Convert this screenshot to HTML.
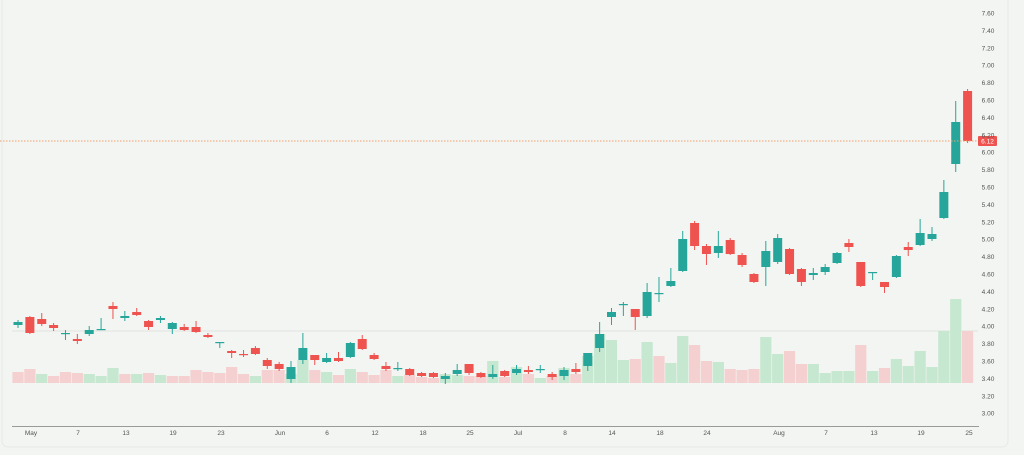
<!DOCTYPE html>
<html><head><meta charset="utf-8"><style>
html,body{margin:0;padding:0;background:#f3f5f2;}
svg{display:block;font-family:"Liberation Sans",sans-serif;}
</style></head><body>
<svg id="s" width="1024" height="455" viewBox="0 0 1024 455">
<rect x="0" y="0" width="1024" height="455" fill="#f3f5f2"/>
<rect x="2" y="-5" width="1006" height="452" rx="6" fill="#f2f5f1" stroke="#e6e9e5"/>
<line x1="12" y1="331" x2="978" y2="331" stroke="#e2e4e1" stroke-width="1"/>
<g id="vol"></g>
<g id="cdl"></g>
<line x1="0" y1="141" x2="978" y2="141" stroke="#f0a070" stroke-width="1" stroke-dasharray="1.5,1.5"/>
<rect x="978" y="136" width="19" height="10" rx="1" fill="#ef5350"/>
<text x="987.5" y="143.5" font-size="6.5" fill="#fff" text-anchor="middle">6.12</text>
<line x1="12" y1="426.5" x2="979" y2="426.5" stroke="#9a9a9a" stroke-width="1"/>
<g font-size="6.5" fill="#555" text-anchor="middle">
<text x="988" y="15.5">7.60</text><text x="988" y="32.9">7.40</text><text x="988" y="50.3">7.20</text><text x="988" y="67.7">7.00</text><text x="988" y="85.1">6.80</text><text x="988" y="102.5">6.60</text><text x="988" y="119.9">6.40</text><text x="988" y="137.3">6.20</text><text x="988" y="154.7">6.00</text><text x="988" y="172.1">5.80</text><text x="988" y="189.5">5.60</text><text x="988" y="206.9">5.40</text><text x="988" y="224.3">5.20</text><text x="988" y="241.7">5.00</text><text x="988" y="259.1">4.80</text><text x="988" y="276.5">4.60</text><text x="988" y="293.9">4.40</text><text x="988" y="311.3">4.20</text><text x="988" y="328.7">4.00</text><text x="988" y="346.1">3.80</text><text x="988" y="363.5">3.60</text><text x="988" y="380.9">3.40</text><text x="988" y="398.3">3.20</text><text x="988" y="415.7">3.00</text>
</g>
<g font-size="6.5" fill="#555" text-anchor="middle">
<text x="31" y="435">May</text><text x="78" y="435">7</text><text x="126" y="435">13</text><text x="173" y="435">19</text><text x="221" y="435">23</text><text x="280" y="435">Jun</text><text x="327" y="435">6</text><text x="375" y="435">12</text><text x="423" y="435">18</text><text x="470" y="435">25</text><text x="518" y="435">Jul</text><text x="565" y="435">8</text><text x="612" y="435">14</text><text x="660" y="435">18</text><text x="707" y="435">24</text><text x="779" y="435">Aug</text><text x="826" y="435">7</text><text x="874" y="435">13</text><text x="921" y="435">19</text><text x="969" y="435">25</text>
</g>
</svg>
<script>
// [color, bodyTop, bodyBot, wickTop, wickBot, volTop, volColor]
var d=[
['g',322,325,320,328,372,'r'],['r',317,333,316,334,369,'r'],['r',319,324,313,326,374,'g'],['r',325,328,323,331,376,'r'],
['g',333,334,330,340,372,'r'],['r',339,341,334,344,373,'r'],['g',330,334,326,336,374,'g'],['g',329,330,318,330,376,'g'],
['r',306,309,302,319,368,'g'],['g',316,318,311,321,374,'r'],['r',312,315,308,316,374,'g'],['r',321,327,320,330,373,'r'],
['g',318,320,316,323,375,'g'],['g',323,329,322,334,376,'r'],['r',327,330,324,331,376,'r'],['r',327,332,321,333,370,'r'],
['r',335,337,333,338,372,'r'],['g',342,343,342,348,373,'r'],['r',351,353,350,358,367,'r'],['r',354,355,350,357,374,'r'],
['r',348,354,346,355,376,'g'],['r',360,366,358,369,370,'r'],['r',364,369,362,371,370,'r'],['g',367,379,361,383,374,'g'],
['g',348,360,333,364,360,'g'],['r',355,360,355,365,370,'r'],['g',358,362,353,363,372,'g'],['r',358,361,352,362,375,'r'],
['g',343,357,342,358,369,'g'],['r',339,349,335,350,372,'r'],['r',355,359,353,360,375,'r'],['r',366,369,362,371,370,'r'],
['g',368,369,362,371,376,'g'],['r',369,375,368,376,375,'r'],['r',373,376,372,377,377,'r'],['r',373,377,372,378,378,'r'],
['g',376,379,373,384,374,'g'],['g',370,374,364,376,375,'g'],['r',364,373,364,375,376,'r'],['r',373,377,372,378,376,'r'],
['g',374,377,365,379,361,'g'],['r',371,376,370,377,377,'r'],['g',369,373,365,375,367,'g'],['r',370,372,366,374,374,'r'],
['g',369,370,365,373,378,'g'],['r',374,377,372,380,376,'r'],['g',370,376,367,380,368,'g'],['r',369,372,363,374,374,'r'],
['g',353,366,353,371,356,'g'],['g',334,348,322,352,334,'g'],['g',312,317,308,325,340,'g'],['g',304,305,302,316,360,'g'],
['r',309,317,309,330,359,'r'],['g',292,316,283,318,342,'g'],['g',293,294,277,302,356,'r'],['g',281,286,268,287,363,'g'],
['g',239,271,231,272,336,'g'],['r',223,246,221,250,345,'r'],['r',246,254,244,265,361,'r'],['g',246,253,231,258,362,'g'],
['r',240,254,238,255,369,'r'],['r',255,265,253,267,370,'r'],['r',274,282,273,283,369,'r'],['g',251,267,241,286,337,'g'],
['g',238,262,234,264,354,'g'],['r',249,274,248,275,351,'r'],['r',269,282,268,286,364,'r'],['g',273,275,268,280,364,'g'],
['g',267,272,264,275,373,'g'],['g',253,263,252,264,371,'g'],['r',243,247,239,252,371,'g'],['r',262,286,262,287,345,'r'],
['g',272,273,272,280,371,'g'],['r',282,287,282,293,368,'r'],['g',256,277,255,278,359,'g'],['r',247,250,242,256,366,'g'],
['g',233,245,219,246,351,'g'],['g',234,239,227,241,367,'g'],['g',192,218,180,219,331,'g'],['g',122,164,101,172,299,'g'],
['r',91,141,89,143,331,'r']];
var ns='http://www.w3.org/2000/svg',V=document.getElementById('vol'),C=document.getElementById('cdl');
function el(p,t,a){var e=document.createElementNS(ns,t);for(var k in a)e.setAttribute(k,a[k]);p.appendChild(e);}
d.forEach(function(c,i){
 var x=18+i*11.87, col=c[0]=='g'?'#26a69a':'#ef5350';
 el(V,'rect',{x:x-5.6,y:c[5],width:11.2,height:383-c[5],fill:c[6]=='g'?'#c6e7d0':'#f4d0d0'});
 el(C,'line',{x1:x,x2:x,y1:c[3],y2:c[4],stroke:col,'stroke-width':1});
 var h=Math.max(c[2]-c[1],1.2);
 el(C,'rect',{x:x-4.5,y:c[1],width:9,height:h,fill:col});
});
</script>
</body></html>
